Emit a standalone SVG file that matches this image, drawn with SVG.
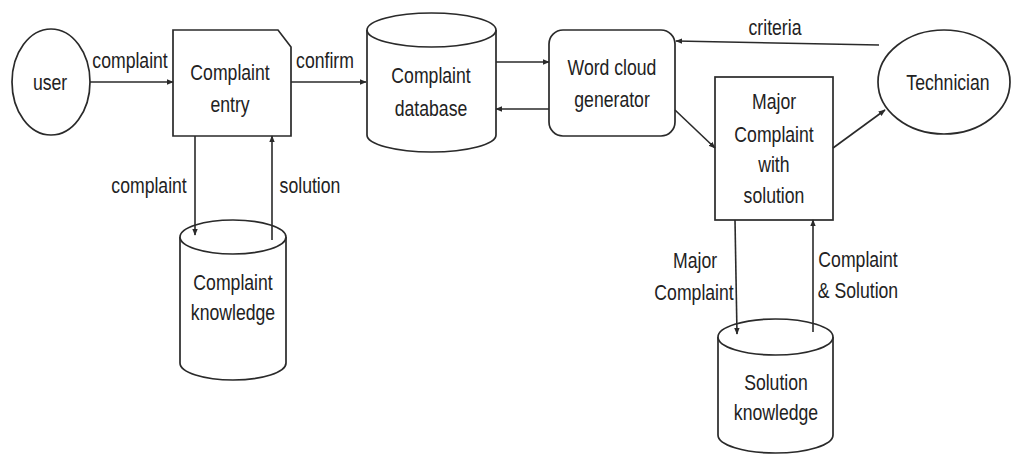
<svg xmlns="http://www.w3.org/2000/svg" width="1012" height="455" viewBox="0 0 1012 455">
<style>
.s{fill:#fff;stroke:#2a2a2a;stroke-width:1.7}
.c{fill:none;stroke:#2a2a2a;stroke-width:1.6}
text{font-family:"Liberation Sans",Arial,sans-serif;font-size:21.5px;fill:#222;text-anchor:middle;transform-box:fill-box;transform-origin:center;transform:scaleX(0.82)}
</style>
<defs>
<marker id="a" viewBox="0 0 10 10" refX="9" refY="5" markerWidth="7" markerHeight="7" orient="auto" markerUnits="userSpaceOnUse">
<path d="M0,1 L10,5 L0,9 z" fill="#2a2a2a"/>
</marker>
</defs>
<rect width="1012" height="455" fill="#fff"/>
<g id="user"><ellipse class="s" cx="51" cy="82" rx="39" ry="53"/><text x="50" y="90">user</text></g>
<g id="entry"><path class="s" d="M173,30 H278 L291,47 V136 H173 Z"/><text x="230" y="80">Complaint</text><text x="230" y="112">entry</text></g>
<g id="db"><path class="s" d="M367,30 V135 A64.5,17 0 0 0 496,135 V30"/><ellipse class="s" cx="431.5" cy="30" rx="64.5" ry="17"/><text x="431" y="83">Complaint</text><text x="431" y="116">database</text></g>
<g id="wordcloud"><rect class="s" x="549" y="30" width="126" height="106" rx="14"/><text x="612" y="75">Word cloud</text><text x="612" y="107">generator</text></g>
<g id="technician"><ellipse class="s" cx="944" cy="82" rx="66" ry="52"/><text x="948" y="90">Technician</text></g>
<g id="major"><rect class="s" x="715" y="77" width="118" height="143"/><text x="774" y="109">Major</text><text x="774" y="142">Complaint</text><text x="774" y="172">with</text><text x="774" y="203">solution</text></g>
<g id="ck"><path class="s" d="M180,237 V363 A53,17 0 0 0 286,363 V237"/><ellipse class="s" cx="233" cy="237" rx="53" ry="17"/><text x="233" y="290">Complaint</text><text x="233" y="320">knowledge</text></g>
<g id="sk"><path class="s" d="M718,337 V435 A57.5,18 0 0 0 833,435 V337"/><ellipse class="s" cx="775.5" cy="337" rx="57.5" ry="18"/><text x="776" y="390">Solution</text><text x="776" y="420">knowledge</text></g>
<g id="connectors">
<line class="c" x1="90" y1="82" x2="173" y2="82" marker-end="url(#a)"/>
<line class="c" x1="291" y1="82" x2="366" y2="82" marker-end="url(#a)"/>
<line class="c" x1="496" y1="62" x2="549" y2="62" marker-end="url(#a)"/>
<line class="c" x1="549" y1="109" x2="496" y2="109" marker-end="url(#a)"/>
<line class="c" x1="879" y1="45" x2="676" y2="41" marker-end="url(#a)"/>
<line class="c" x1="675" y1="110" x2="715" y2="148" marker-end="url(#a)"/>
<line class="c" x1="833" y1="148" x2="885" y2="110" marker-end="url(#a)"/>
<line class="c" x1="195" y1="136" x2="195" y2="235" marker-end="url(#a)"/>
<line class="c" x1="272" y1="240" x2="272" y2="136" marker-end="url(#a)"/>
<line class="c" x1="735" y1="220" x2="737" y2="334" marker-end="url(#a)"/>
<line class="c" x1="813" y1="332" x2="813" y2="220" marker-end="url(#a)"/>
</g>
<g id="labels">
<text x="130" y="68">complaint</text>
<text x="325" y="68">confirm</text>
<text x="775" y="35">criteria</text>
<text x="149" y="193">complaint</text>
<text x="310" y="193">solution</text>
<text x="695" y="268">Major</text>
<text x="694" y="300">Complaint</text>
<text x="858" y="267">Complaint</text>
<text x="858" y="298">&amp; Solution</text>
</g>
</svg>
